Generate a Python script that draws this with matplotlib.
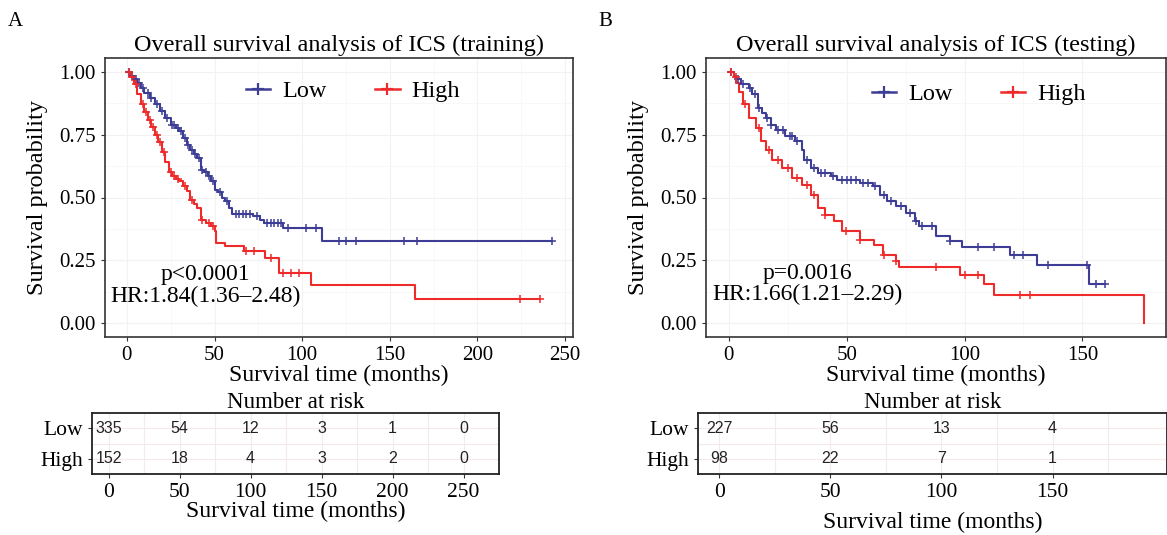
import numpy as np
import matplotlib
matplotlib.use("Agg")
import matplotlib.pyplot as plt

SERIF = ["Liberation Serif", "DejaVu Serif"]
SANS = ["Liberation Sans", "DejaVu Sans"]

# ---------------- data: training cohort ----------------
train_low_t = [0, 2, 4, 6, 8, 10, 13, 16, 19, 22, 25, 28, 30, 32, 34, 36, 38, 40, 42, 44, 46,
               48, 50, 52, 54, 56, 58, 60, 72, 76, 78, 89, 111.5]
train_low_s = [1.0, 0.985, 0.97, 0.955, 0.935, 0.915, 0.895, 0.87, 0.845, 0.816, 0.79, 0.775,
               0.763, 0.735, 0.71, 0.69, 0.675, 0.657, 0.61, 0.6, 0.585, 0.565, 0.53, 0.52, 0.5,
               0.485, 0.46, 0.433, 0.425, 0.41, 0.40, 0.377, 0.327]
train_low_end = 242.6
train_low_cens = [1, 3, 5, 7, 9, 12, 14, 17, 20, 23, 26, 27, 29, 31, 33, 35, 37, 39, 41, 43, 45,
                  47, 49, 53, 57, 62, 64, 66, 68, 70, 74, 80, 82, 84, 86, 88, 92, 102, 108,
                  121, 125, 130.5, 158, 165.5, 242.6]

train_high_t = [0, 2, 4, 6, 8, 10, 12, 14, 16, 18, 20, 22, 24, 26, 28, 30, 32, 34, 36, 38, 40,
                42, 45, 48, 50, 51, 56, 67, 79, 87, 105, 164.6]
train_high_s = [1.0, 0.98, 0.95, 0.91, 0.87, 0.84, 0.81, 0.78, 0.75, 0.72, 0.68, 0.64, 0.60,
                0.585, 0.575, 0.565, 0.545, 0.525, 0.49, 0.475, 0.46, 0.41, 0.40, 0.385, 0.365,
                0.32, 0.307, 0.287, 0.26, 0.20, 0.15, 0.095]
train_high_end = 235.6
train_high_cens = [1, 3, 5, 9, 11, 13, 15, 17, 19, 21, 25, 27, 29, 33, 37, 43, 47, 49, 68, 72.7,
                   82, 88.8, 93.5, 98, 224, 235.6]

# ---------------- data: testing cohort ----------------
test_low_t = [0, 2, 3.2, 5, 8.7, 10, 12.2, 14, 15.6, 17.7, 19.8, 24, 28, 31, 32, 35, 37.8, 43.4,
              46, 55.8, 61, 64, 67, 71, 75, 79, 80.7, 87.7, 94, 98.8, 119.5, 130.6, 152.8]
test_low_s = [1.0, 0.985, 0.97, 0.95, 0.935, 0.91, 0.855, 0.835, 0.816, 0.79, 0.77, 0.743, 0.723,
              0.69, 0.65, 0.617, 0.597, 0.584, 0.57, 0.558, 0.544, 0.51, 0.485, 0.465, 0.438,
              0.405, 0.385, 0.346, 0.326, 0.302, 0.273, 0.233, 0.154]
test_low_end = 159.7
test_low_cens = [1, 4, 6, 9, 11, 13, 16, 18, 21, 23, 26, 27, 29, 33, 36, 39, 41, 44, 48, 50, 52,
                 54, 57, 59, 62, 66, 69, 73, 77, 79.4, 82, 86, 94, 105.7, 112.6, 121, 125,
                 135.5, 152, 156, 159.7]

test_high_t = [0, 2, 3.2, 4.5, 6, 8.7, 11.5, 13.6, 15.6, 18.4, 22.6, 26.7, 31, 35, 37.8, 40.6,
               44.7, 48.2, 55.8, 61.4, 65.5, 71, 72.4, 98, 108.4, 112.6, 176.3]
test_high_s = [1.0, 0.98, 0.955, 0.92, 0.87, 0.816, 0.776, 0.723, 0.69, 0.65, 0.617, 0.577,
               0.551, 0.51, 0.458, 0.432, 0.405, 0.365, 0.332, 0.313, 0.273, 0.246, 0.222, 0.193,
               0.154, 0.114, 0.0]
test_high_end = 176.3
test_high_cens = [1, 3, 7, 13, 17, 21, 25, 29, 33, 36, 40.6, 49.6, 55.8, 66, 71, 87.7, 100,
                  105.7, 123.7, 127.8]

# ---------------- risk tables ----------------
groups = ["Low", "High"]
train_risk_times = [0, 50, 100, 150, 200, 250]
train_risk_low = [335, 54, 12, 3, 1, 0]
train_risk_high = [152, 18, 4, 3, 2, 0]
test_risk_times = [0, 50, 100, 150]
test_risk_low = [227, 56, 13, 4]
test_risk_high = [98, 22, 7, 1]

BLUE = "#3d3d96"
RED = "#ee2a2a"

W, H = 1167, 535
fig = plt.figure(figsize=(W / 100, H / 100), dpi=100)


def box(l, t, r, b):
    return [l / W, 1 - b / H, (r - l) / W, (b - t) / H]


def step_at(t, s, x):
    idx = np.searchsorted(np.asarray(t), np.asarray(x), side="right") - 1
    return np.asarray(s)[idx]


def km_panel(ax, curves, xlim, xticks, title, ptxt, hrtxt, txt_xy, leg_anchor):
    for (t, s, end, cens, col, lab) in curves:
        tt = list(t) + [end]
        ss = list(s) + [s[-1]]
        ax.step(tt, ss, where="post", color=col, lw=1.5, label=lab, zorder=3)
        cy = step_at(t, s, cens)
        ax.plot(cens, cy, ls="none", marker="+", ms=6, mew=1.1, color=col, zorder=4)
    ax.set_xlim(*xlim)
    ax.set_ylim(-0.055, 1.055)
    ax.set_xticks(xticks)
    ax.set_yticks([0, 0.25, 0.5, 0.75, 1.0])
    ax.set_yticklabels(["0.00", "0.25", "0.50", "0.75", "1.00"])
    ax.set_xticks([x + 25 for x in xticks[:-1]], minor=True)
    ax.set_yticks([0.125, 0.375, 0.625, 0.875], minor=True)
    ax.grid(True, which="major", color="#f2f2f2", lw=0.8)
    ax.grid(True, which="minor", color="#f7f7f7", lw=0.6)
    ax.tick_params(which="minor", length=0)
    ax.tick_params(which="major", length=3, width=0.8, labelsize=15, color="#333333")
    for lab in ax.get_xticklabels() + ax.get_yticklabels():
        lab.set_family(SERIF)
    for sp in ax.spines.values():
        sp.set_color("#333333")
        sp.set_linewidth(1.2)
    ax.set_xlabel("Survival time (months)", family=SERIF, fontsize=17, labelpad=0)
    ax.set_ylabel("Survival probability", family=SERIF, fontsize=17.5, labelpad=8)
    ax.set_title(title, family=SERIF, fontsize=17.5, pad=5)
    ax.text(txt_xy[0], txt_xy[1], ptxt + "\n" + hrtxt, family=SERIF, fontsize=17,
            ha="center", va="center", linespacing=1.05, transform=ax.transAxes)
    handles = [plt.Line2D([], [], color=c[4], lw=1.8, marker="+", ms=8, mew=1.6)
               for c in curves]
    ax.legend(handles, [c[5] for c in curves], loc="center", bbox_to_anchor=leg_anchor,
              ncol=2, frameon=False, prop={"family": SERIF, "size": 17.5},
              handlelength=1.0, handletextpad=0.5, columnspacing=2.0)


def risk_panel(ax, xlim, times, low, high, xticks):
    ax.set_xlim(*xlim)
    ax.set_ylim(-0.5, 1.5)
    ax.set_yticks([1, 0])
    ax.set_yticklabels(groups, family=SERIF, fontsize=16.5)
    for i, (tm, a, b) in enumerate(zip(times, low, high)):
        ax.text(tm, 1, str(a), ha="center", va="center", family=SANS, fontsize=11.5,
                color="#222222")
        ax.text(tm, 0, str(b), ha="center", va="center", family=SANS, fontsize=11.5,
                color="#222222")
    ax.set_xticks(xticks)
    ax.set_xticks([x + 25 for x in xticks], minor=True)
    ax.set_yticks([0.5], minor=True)
    ax.grid(True, which="both", color="#f6e9e9", lw=0.8)
    ax.tick_params(which="minor", length=0)
    ax.tick_params(which="major", length=3, width=0.8, labelsize=15.5, color="#333333")
    for lab in ax.get_xticklabels():
        lab.set_family(SERIF)
    for sp in ax.spines.values():
        sp.set_color("#222222")
        sp.set_linewidth(1.3)
    ax.set_title("Number at risk", family=SERIF, fontsize=16.5, pad=3)


# ---- Panel A ----
axA = fig.add_axes(box(105, 58, 573, 337))
km_panel(axA,
         [(train_low_t, train_low_s, train_low_end, train_low_cens, BLUE, "Low"),
          (train_high_t, train_high_s, train_high_end, train_high_cens, RED, "High")],
         (-12.5, 254.5), [0, 50, 100, 150, 200, 250],
         "Overall survival analysis of ICS (training)", "p<0.0001", "HR:1.84(1.36\u20132.48)",
         (0.214, 0.183), (0.53, 0.88))

# ---- Panel B ----
axB = fig.add_axes(box(706, 58, 1166, 337))
km_panel(axB,
         [(test_low_t, test_low_s, test_low_end, test_low_cens, BLUE, "Low"),
          (test_high_t, test_high_s, test_high_end, test_high_cens, RED, "High")],
         (-9.7, 185.5), [0, 50, 100, 150],
         "Overall survival analysis of ICS (testing)", "p=0.0016", "HR:1.66(1.21\u20132.29)",
         (0.22, 0.19), (0.593, 0.87))

# ---- Risk tables ----
axA2 = fig.add_axes(box(92, 413, 499, 474))
risk_panel(axA2, (-11.7, 254), train_risk_times, train_risk_low, train_risk_high,
           [0, 50, 100, 150, 200, 250])
axA2.set_xlabel("Survival time (months)", family=SERIF, fontsize=17, labelpad=-1)

axB2 = fig.add_axes(box(698, 413, 1167, 474))
risk_panel(axB2, (-9.5, 201.5), test_risk_times, test_risk_low, test_risk_high,
           [0, 50, 100, 150])
axB2.set_xlabel("Survival time (months)", family=SERIF, fontsize=17, labelpad=7)

fig.text(15 / W, 1 - 22 / H, "A", family=SERIF, fontsize=15, ha="center", va="center")
fig.text(605 / W, 1 - 22 / H, "B", family=SERIF, fontsize=15, ha="center", va="center")

fig.savefig("out.png", dpi=100)
